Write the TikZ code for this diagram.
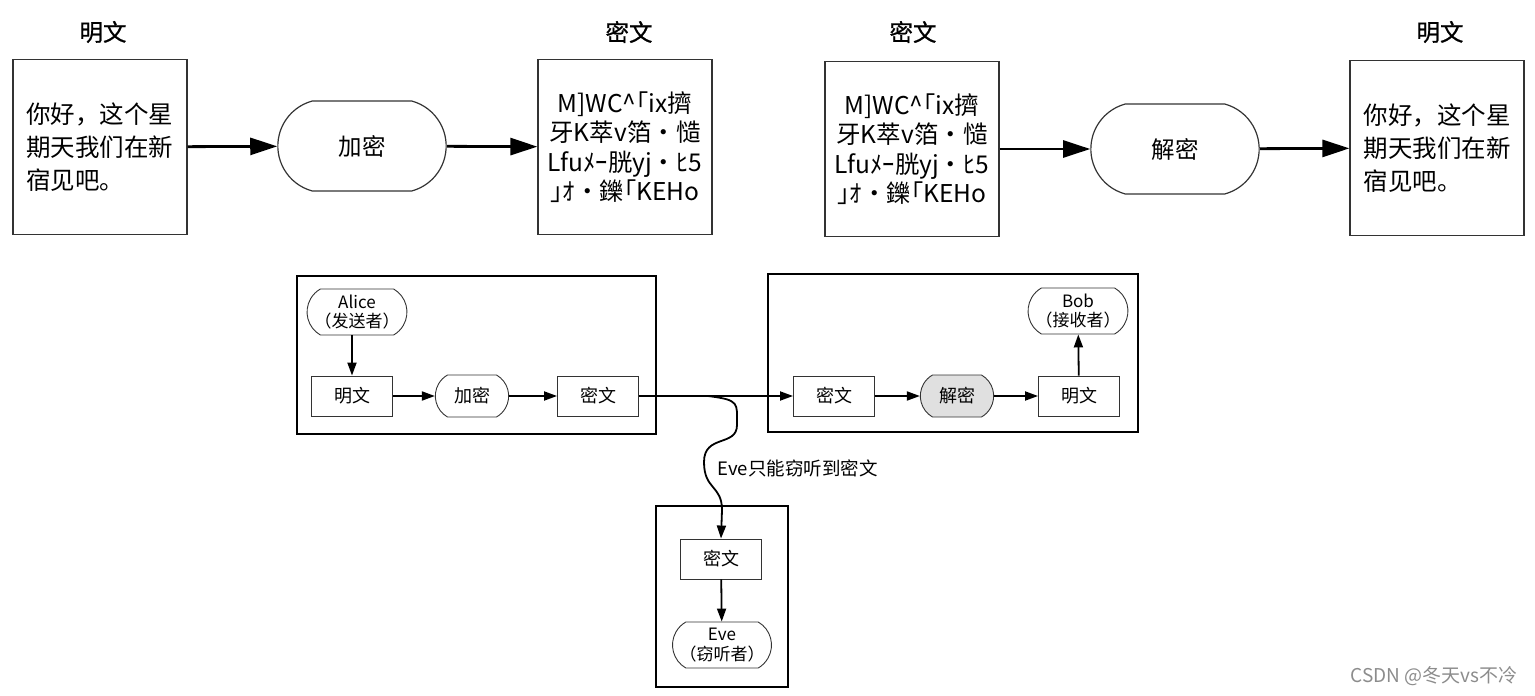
\documentclass[tikz,border=0pt]{standalone}
\usepackage{fontspec}
\setmainfont{Noto Sans CJK SC}
\newfontfamily\labelfont[FakeBold=0.8]{Noto Sans CJK SC}
\usetikzlibrary{arrows.meta,shapes.misc}

\tikzset{
  txtbox/.style={draw=black!80, line width=1.2pt, minimum width=174pt, minimum height=175pt,
    align=left, font=\fontsize{24.5}{33}\selectfont},
  cipherbox/.style={txtbox, align=center, font=\fontsize{24.5}{29.5}\selectfont},
  toplabel/.style={font=\labelfont\fontsize{23.5}{26}\selectfont},
  bigproc/.style={draw=black!80, line width=1.2pt, rounded rectangle, rounded rectangle arc length=150,
    minimum width=175pt, minimum height=90pt, font=\fontsize{23.5}{28}\selectfont},
  bigarrow/.style={line width=2.8pt, -{Triangle[length=27pt,width=17pt]}},
  frame/.style={draw, line width=2pt},
  smallbox/.style={draw=black!80, line width=0.9pt, minimum width=81pt, minimum height=40pt,
    font=\fontsize{18}{21}\selectfont},
  smallproc/.style={draw=black!80, line width=0.9pt, rounded rectangle, rounded rectangle arc length=120,
    minimum width=80pt, minimum height=42pt, font=\fontsize{18}{21}\selectfont},
  person/.style={smallproc, align=center, minimum width=94pt, minimum height=46pt, inner sep=1pt,
    font=\fontsize{17}{19.5}\selectfont},
  smallarrow/.style={line width=1.8pt, -{Triangle[length=13pt,width=9pt]}},
}

\begin{document}
\begin{tikzpicture}[x=1pt,y=-1pt]
\useasboundingbox (0,0) rectangle (1535,696);

% top row: encryption
\node (lbl-plain1) [toplabel, at={(103,32)}] {明文};
\node (plain1) [txtbox, at={(100,147)}] {你好，这个星\\期天我们在新\\宿见吧。};
\node (enc) [bigproc, at={(362,146)}] {加密};
\node (lbl-cipher1) [toplabel, at={(629,32)}] {密文};
\node (cipher1) [cipherbox, at={(625,147)}] {M]WC\^{}｢ix擠\\牙K萃v箔・慥\\Lfuﾒｰ胱yj・ﾋ5\\｣ｵ・鑠｢KEHo};
\draw [bigarrow] (plain1) -- (enc);
\draw [bigarrow] (enc) -- (cipher1);

% top row: decryption
\node (lbl-cipher2) [toplabel, at={(913,32)}] {密文};
\node (cipher2) [cipherbox, at={(912,149)}] {M]WC\^{}｢ix擠\\牙K萃v箔・慥\\Lfuﾒｰ胱yj・ﾋ5\\｣ｵ・鑠｢KEHo};
\node (dec) [bigproc, at={(1175,149)}] {解密};
\node (lbl-plain2) [toplabel, at={(1440,32)}] {明文};
\node (plain2) [txtbox, at={(1437,148)}] {你好，这个星\\期天我们在新\\宿见吧。};
\draw [bigarrow] (cipher2) -- (dec);
\draw [bigarrow] (dec) -- (plain2);

% Alice
\draw [frame] (297,276) rectangle (656,434);
\node (alice) [person, at={(357,312)}] {Alice\\（发送者）};
\node (a-plain) [smallbox, at={(352,396)}] {明文};
\node (a-enc) [smallproc, at={(472,396)}] {加密};
\node (a-cipher) [smallbox, at={(598,396)}] {密文};
\draw [smallarrow] (alice.south -| a-plain) -- (a-plain);
\draw [smallarrow] (a-plain) -- (a-enc);
\draw [smallarrow] (a-enc) -- (a-cipher);

% Bob
\draw [frame] (768,274) rectangle (1138,432);
\node (b-cipher) [smallbox, at={(834,396)}] {密文};
\node (b-dec) [smallproc, fill=black!12, at={(957,396)}] {解密};
\node (b-plain) [smallbox, at={(1079,396)}] {明文};
\node (bob) [person, at={(1078,311)}] {Bob\\（接收者）};
\draw [smallarrow] (a-cipher) -- (b-cipher);
\draw [smallarrow] (b-cipher) -- (b-dec);
\draw [smallarrow] (b-dec) -- (b-plain);
\draw [smallarrow] (b-plain) -- (bob);

% Eve
\draw [frame] (656,506) rectangle (788,687);
\node (e-cipher) [smallbox, at={(721,559)}] {密文};
\node (eve) [person, at={(722,645)}] {Eve\\（窃听者）};
\coordinate (tap) at (708,396);
\draw [smallarrow] (tap) .. controls +(32,4) and +(0,-22) .. (737,425)
  .. controls +(0,22) and +(0,-28) .. (704,462)
  .. controls +(0,28) and +(0,-25) .. (722,510) -- (e-cipher.north);
\node (eve-note) [anchor=west, font=\fontsize{18.5}{21}\selectfont, at={(714,468)}] {Eve只能窃听到密文};
\draw [smallarrow] (e-cipher) -- (eve);

\node (mark) [text=black!45, font=\fontsize{19}{22}\selectfont, at={(1434,676)}] {CSDN @冬天vs不冷};
\end{tikzpicture}
\end{document}
